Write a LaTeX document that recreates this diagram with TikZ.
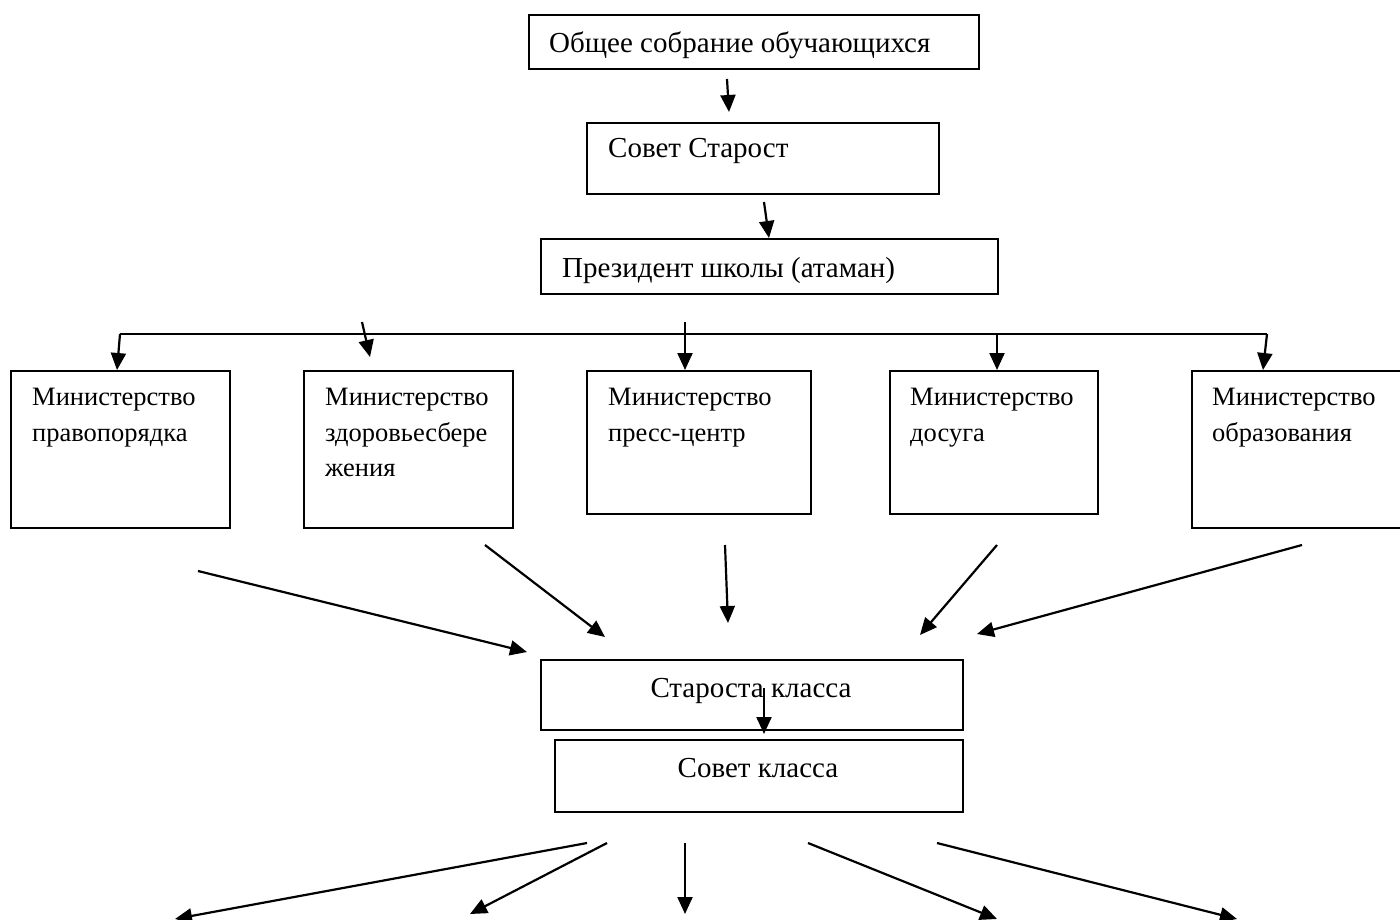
\documentclass[tikz,border=0pt]{standalone}
\usepackage{fontspec}
\setmainfont{Liberation Serif}
\usetikzlibrary{arrows.meta}
\begin{document}
\begin{tikzpicture}[x=1pt,y=-1pt,
  box/.style={draw, line width=1.8pt, inner sep=0pt, anchor=north west},
  txt/.style={inner sep=0pt, font=\fontsize{29}{35.5}\selectfont},
  mtxt/.style={inner sep=0pt, font=\fontsize{26.5}{35.5}\selectfont, align=left, anchor=north west},
  arr/.style={line width=2.2pt, -{Triangle[length=17pt,width=15pt]}},
  bus/.style={line width=2.2pt}]
\useasboundingbox (0,0) rectangle (1400,920);
% top chain
\node[box, minimum width=450pt, minimum height=54pt] (gen) at (528,14) {};
\node[txt, anchor=base west] (genT) at (549,53) {Общее собрание обучающихся};
\node[box, minimum width=352pt, minimum height=71pt] (sov) at (586,122) {};
\node[txt, anchor=base west] (sovT) at (608,158) {Совет Старост};
\node[box, minimum width=457pt, minimum height=55pt] (pres) at (540,238) {};
\node[txt, anchor=base west] (presT) at (562,277) {Президент школы (атаман)};
\coordinate (a1s) at (727,79);  \coordinate (a1e) at (729,112);
\coordinate (a2s) at (764,202); \coordinate (a2e) at (769,238);
\draw[arr] (a1s) -- (a1e);
\draw[arr] (a2s) -- (a2e);
% ministries
\node[box, minimum width=219pt, minimum height=157pt] (m1) at (10,370) {};
\node[box, minimum width=209pt, minimum height=157pt] (m2) at (303,370) {};
\node[box, minimum width=224pt, minimum height=143pt] (m3) at (586,370) {};
\node[box, minimum width=208pt, minimum height=143pt] (m4) at (889,370) {};
\node[box, minimum width=209pt, minimum height=157pt] (m5) at (1191,370) {};
\node[mtxt] (m1T) at (32,388) {Министерство\\правопорядка};
\node[mtxt] (m2T) at (325,388) {Министерство\\здоровьесбере\\жения};
\node[mtxt] (m3T) at (608,388) {Министерство\\пресс-центр};
\node[mtxt] (m4T) at (910,388) {Министерство\\досуга};
\node[mtxt] (m5T) at (1212,388) {Министерство\\образования};
% bus
\coordinate (busW) at (120,334); \coordinate (busE) at (1267,334);
\draw[bus] (busW) -- (busE);
\coordinate (b1s) at (120,334);  \coordinate (b1e) at (117,370);
\coordinate (b2s) at (362,322);  \coordinate (b2e) at (370,357);
\coordinate (b3s) at (685,322);  \coordinate (b3e) at (685,370);
\coordinate (b4s) at (997,334);  \coordinate (b4e) at (997,370);
\coordinate (b5s) at (1267,334); \coordinate (b5e) at (1263,370);
\foreach \i in {1,...,5} {\draw[arr] (b\i s) -- (b\i e);}
% class
\node[box, minimum width=422pt, minimum height=70pt] (star) at (540,659) {};
\node[txt, anchor=base] (starT) at (751,697) {Староста класса};
\node[box, minimum width=408pt, minimum height=72pt] (sk) at (554,739) {};
\node[txt, anchor=base] (skT) at (758,777) {Совет класса};
\coordinate (c0s) at (764,688); \coordinate (c0e) at (764,734);
\draw[arr] (c0s) -- (c0e);
% ministries to starosta
\coordinate (d1s) at (198,571);  \coordinate (d1e) at (527,652);
\coordinate (d2s) at (485,545);  \coordinate (d2e) at (605,637);
\coordinate (d3s) at (725,545);  \coordinate (d3e) at (728,623);
\coordinate (d4s) at (997,545);  \coordinate (d4e) at (920,635);
\coordinate (d5s) at (1302,545); \coordinate (d5e) at (977,634);
\foreach \i in {1,...,5} {\draw[arr] (d\i s) -- (d\i e);}
% bottom arrows
\coordinate (e1s) at (587,843);  \coordinate (e1e) at (175,919);
\coordinate (e2s) at (607,843);  \coordinate (e2e) at (470,914);
\coordinate (e3s) at (685,843);  \coordinate (e3e) at (685,914);
\coordinate (e4s) at (808,843);  \coordinate (e4e) at (997,919);
\coordinate (e5s) at (937,843);  \coordinate (e5e) at (1237,919);
\foreach \i in {1,...,5} {\draw[arr] (e\i s) -- (e\i e);}
\end{tikzpicture}
\end{document}
